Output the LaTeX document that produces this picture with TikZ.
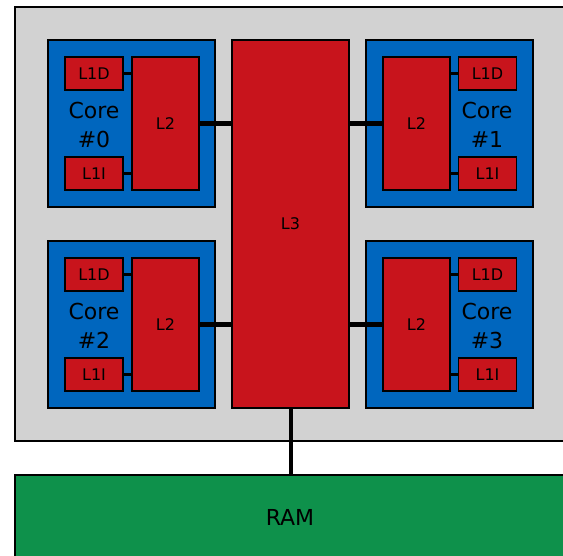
\documentclass[tikz,border=0pt]{standalone}
\usepackage{fontspec}
\setmainfont{DejaVu Sans}
\definecolor{chipgray}{RGB}{210,210,210}
\definecolor{coreblue}{RGB}{0,102,190}
\definecolor{cachered}{RGB}{200,20,28}
\definecolor{ramgreen}{RGB}{14,145,75}
\tikzset{
  box/.style={draw=black, line width=1.2pt, rectangle, inner sep=0pt, anchor=center},
  chipbox/.style={box, fill=chipgray},
  corebox/.style={box, fill=coreblue, minimum width=167pt, minimum height=167pt},
  cachebox/.style={box, fill=cachered, font=\fontsize{16}{19}\selectfont},
  l1box/.style={cachebox, minimum width=58pt, minimum height=33pt},
  l2box/.style={cachebox, minimum width=67pt, minimum height=133pt},
  corelabel/.style={font=\fontsize{22}{29}\selectfont, align=center, inner sep=0pt},
  thinlink/.style={line width=3pt},
  thicklink/.style={line width=5pt},
  pics/coreleft/.style args={#1}{code={
    \node[corebox] (-core) at (83.5,83.5) {};
    \node[l1box] (-l1d) at (46,33.5) {L1D};
    \node[l1box] (-l1i) at (46,133.5) {L1I};
    \node[l2box] (-l2) at (117.5,83.5) {L2};
    \node[corelabel] (-lbl) at (46,85) {Core\\\##1};
    \draw[thinlink] (-l1d.east) -- (-l1d.east -| -l2.west);
    \draw[thinlink] (-l1i.east) -- (-l1i.east -| -l2.west);
  }},
  pics/coreright/.style args={#1}{code={
    \node[corebox] (-core) at (83.5,83.5) {};
    \node[l1box] (-l1d) at (121.5,33.5) {L1D};
    \node[l1box] (-l1i) at (121.5,133.5) {L1I};
    \node[l2box] (-l2) at (50.5,83.5) {L2};
    \node[corelabel] (-lbl) at (121,85) {Core\\\##1};
    \draw[thinlink] (-l1d.west) -- (-l1d.west -| -l2.east);
    \draw[thinlink] (-l1i.west) -- (-l1i.west -| -l2.east);
  }}
}
\begin{document}
\begin{tikzpicture}[x=1pt,y=-1pt]
\useasboundingbox (0,0) rectangle (563,556);
\clip (0,0) rectangle (563,556);
\fill[white] (0,0) rectangle (563,556);
\node[chipbox, minimum width=600pt, minimum height=434pt] (chip) at (315,224) {};
\node[box, fill=ramgreen, minimum width=560pt, minimum height=84pt] (ram) at (295,517) {};
\node[font=\fontsize{22}{26}\selectfont, inner sep=0pt] (ramlabel) at (290,517) {RAM};
\pic (c0) at (48,40) {coreleft={0}};
\pic (c1) at (366,40) {coreright={1}};
\pic (c2) at (48,241) {coreleft={2}};
\pic (c3) at (366,241) {coreright={3}};
\node[cachebox, minimum width=117pt, minimum height=368pt] (l3) at (290.5,224) {L3};
\draw[thicklink] (c0-l2.east) -- (c0-l2.east -| l3.west);
\draw[thicklink] (c2-l2.east) -- (c2-l2.east -| l3.west);
\draw[thicklink] (c1-l2.west) -- (c1-l2.west -| l3.east);
\draw[thicklink] (c3-l2.west) -- (c3-l2.west -| l3.east);
\draw[line width=4pt] (l3.south) -- (l3.south |- ram.north);
\end{tikzpicture}
\end{document}
